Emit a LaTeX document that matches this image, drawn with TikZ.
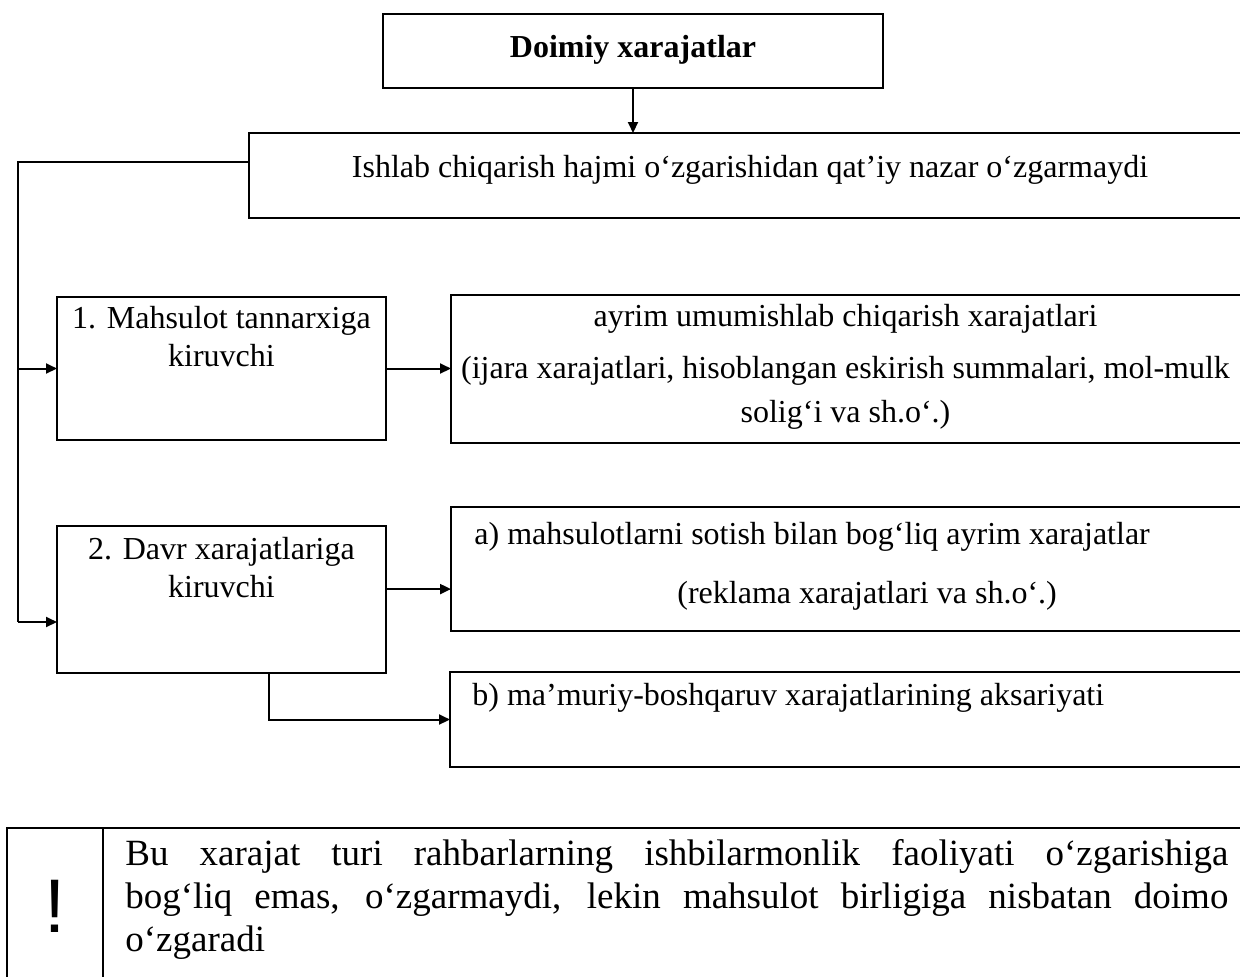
\documentclass[tikz,border=0pt]{standalone}
\usepackage{fontspec}
\setmainfont{Liberation Serif}
\newfontfamily\exclfont{Liberation Sans}
\usetikzlibrary{fit,calc,arrows.meta}
\begin{document}
\begin{tikzpicture}[x=0.5pt,y=-0.5pt,
  frame/.style={draw, line width=1pt, rectangle, inner sep=0pt, outer sep=0pt},
  link/.style={line width=1pt, -{Triangle[length=5.5pt,width=5pt]}},
  body/.style={inner sep=0pt, font=\fontsize{16pt}{19pt}\selectfont},
  heading/.style={inner sep=0pt, font=\fontsize{16pt}{19pt}\selectfont\bfseries},
  note/.style={inner sep=0pt, text width=551.5pt, align=justify,
    font=\fontsize{18.5pt}{21.5pt}\selectfont},
]
\useasboundingbox (0,0) rectangle (1240,976);
\clip (0,0) rectangle (1240,976);

% frames (the right-hand ones run past the page edge)
\node (top) [frame, fit={(383,14) (883,88)}] {};
\node (ish) [frame, fit={(249,133) (1250,218)}] {};
\node (box1) [frame, fit={(57,297) (386,440)}] {};
\node (ayr) [frame, fit={(451,295) (1250,443)}] {};
\node (box2) [frame, fit={(57,526) (386,673)}] {};
\node (abox) [frame, fit={(451,507) (1250,631)}] {};
\node (bbox) [frame, fit={(450,672) (1250,767)}] {};
\node (excl) [frame, fit={(7,828) (103,1000)}] {};
\node (remark) [frame, fit={(103,828) (1250,1000)}] {};

% texts (multi-line nodes sit on the baseline of their last line)
\node (topT) [heading, anchor=base] at (633,57) {Doimiy xarajatlar};
\node (ishT) [body, anchor=base] at (750,177)
  {Ishlab chiqarish hajmi o‘zgarishidan qat’iy nazar o‘zgarmaydi};
\node (box1T) [body, anchor=base, align=center] at (221.5,366)
  {1. Mahsulot tannarxiga\\kiruvchi};
\node (ayrT) [body, anchor=base, align=center] at (845.5,422)
  {ayrim umumishlab chiqarish xarajatlari\\[7pt]
   (ijara xarajatlari, hisoblangan eskirish summalari, mol-mulk\\[3pt]
   solig‘i va sh.o‘.)};
\node (box2T) [body, anchor=base, align=center] at (221.5,597)
  {2. Davr xarajatlariga\\kiruvchi};
\node (aT1) [body, anchor=base west] at (474,544)
  {a) mahsulotlarni sotish bilan bog‘liq ayrim xarajatlar};
\node (aT2) [body, anchor=base west] at (677,603)
  {(reklama xarajatlari va sh.o‘.)};
\node (bT) [body, anchor=base west] at (472,705)
  {b) ma’muriy-boshqaruv xarajatlarining aksariyati};
\node (exT) [inner sep=0pt, anchor=base, font=\exclfont\fontsize{38pt}{38pt}\selectfont]
  at (55,932) {!};
\node (remarkT) [note, anchor=base west] at (125,865)
  {\hyphenpenalty=10000 \tolerance=10000
   Bu xarajat turi rahbarlarning ishbilarmonlik faoliyati o‘zgarishiga\linebreak
   bog‘liq emas, o‘zgarmaydi, lekin mahsulot birligiga nisbatan doimo\linebreak
   o‘zgaradi};

% connectors
\coordinate (spine) at (18,162);
\coordinate (in2) at ($(box2.north west)!0.653!(box2.south west)$);
\coordinate (out2) at ($(box2.north east)!0.429!(box2.south east)$);
\coordinate (down2) at ($(box2.south west)!0.644!(box2.south east)$);

\draw[link] (top.south) -- (top.south |- ish.north);
\draw[line width=1pt] (ish.west |- spine) -- (spine) -- (spine |- in2);
\draw[link] (spine |- in2) -- (in2);
\draw[link] (spine |- box1.west) -- (box1.west);
\draw[link] (box1.east) -- (box1.east -| ayr.west);
\draw[link] (out2) -- (out2 -| abox.west);
\draw[link] (down2) |- (bbox.west);
\end{tikzpicture}
\end{document}
